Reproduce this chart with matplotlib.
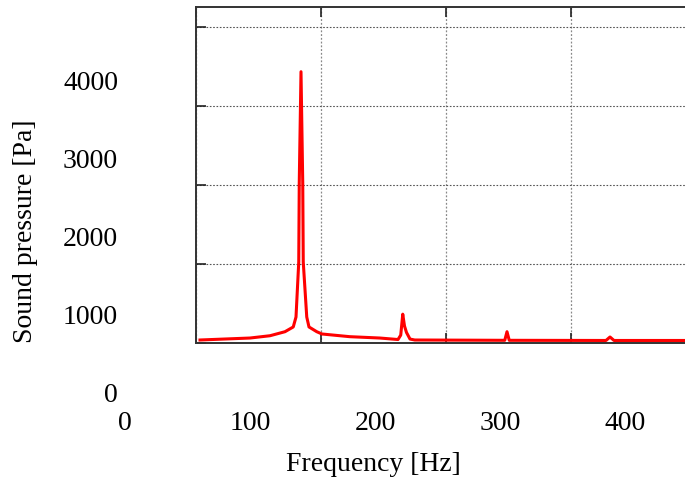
import matplotlib
matplotlib.use("Agg")
import matplotlib.pyplot as plt

# Spectrum (frequency in Hz, sound pressure in Pa)
freq = [3.2, 43.2, 59.2, 71.2, 77.8, 80.0, 82.2, 82.6, 84.0, 85.4, 85.8, 88.6,
        90.4, 96.6, 100.8, 123.0, 147.0, 161.6, 163.8, 165.4, 166.8, 168.4,
        171.2, 175.0, 247.0, 248.8, 250.6, 328.0, 331.2, 334.4, 395.0]
pressure = [38, 63, 92, 143, 203, 329, 1025, 2025, 3434, 2025, 1025, 329,
            203, 143, 114, 80, 63, 44, 100, 365, 215, 133,
            50, 38, 34, 143, 34, 32, 76, 32, 32]

x_ticks = [0, 100, 200, 300, 400]
y_ticks = [0, 1000, 2000, 3000, 4000]
x_label = "Frequency [Hz]"
y_label = "Sound pressure [Pa]"

W, H = 685, 486
fig = plt.figure(figsize=(W / 100, H / 100), dpi=100)
plt.rcParams['font.family'] = ['Liberation Serif', 'DejaVu Serif']

def px_rect(left, bottom, width, height):
    return [left / W, 1 - bottom / H, width / W, height / H]

# Label axes (tick labels drawn offset from the frame, as in the reference)
ax2 = fig.add_axes(px_rect(125, 392.5, 500, 336))
ax2.set_xlim(0, 400)
ax2.set_ylim(0, 4308)
ax2.set_xticks(x_ticks)
ax2.set_yticks(y_ticks)
ax2.set_xticklabels([str(v) for v in x_ticks], fontsize=20)
ax2.set_yticklabels([str(v) for v in y_ticks], fontsize=20)
ax2.tick_params(axis='x', length=0, pad=13)
ax2.tick_params(axis='y', length=0, pad=5)
for s in ax2.spines.values():
    s.set_visible(False)
ax2.patch.set_alpha(0)

# Plot frame axes
ax1 = fig.add_axes(px_rect(196, 343, 500, 336))
ax1.set_xlim(0, 400)
ax1.set_ylim(0, 4253)
ax1.set_xticks(x_ticks)
ax1.set_yticks(y_ticks)
ax1.set_xticklabels([])
ax1.set_yticklabels([])
ax1.tick_params(direction='in', length=7, width=1.2, top=True, right=True,
                colors='#222222')
ax1.grid(True, axis='y', linestyle=(0, (1.5, 1.5)), color='#555555', linewidth=0.8)
ax1.grid(True, axis='x', linestyle=(0, (1.5, 1.5)), color='#888888', linewidth=0.9)
for s in ax1.spines.values():
    s.set_linewidth(1.4)
    s.set_color('#333333')
ax1.patch.set_alpha(0)
ax1.plot(freq, pressure, color='red', linewidth=2.2, solid_joinstyle='round')

fig.text(373 / W, 1 - 464 / H, x_label, fontsize=20, ha='center', va='center')
fig.text(26 / W, 1 - 231 / H, y_label, fontsize=20, ha='center', va='center',
         rotation=90)

fig.savefig("out.png", dpi=100)
